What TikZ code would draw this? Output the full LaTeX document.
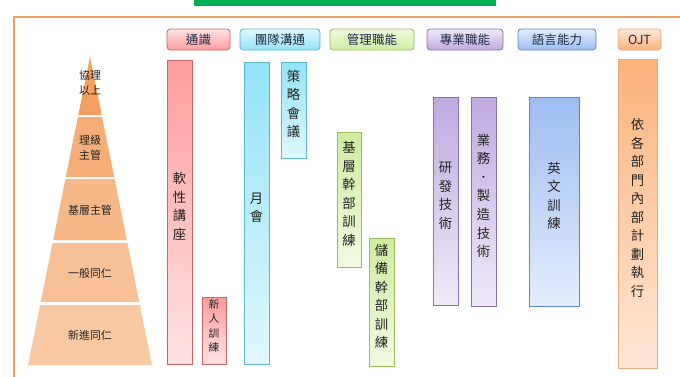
\documentclass[tikz,border=0pt]{standalone}
\usepackage{fontspec}
\newfontfamily\cjk{Noto Sans CJK TC}
\usetikzlibrary{fit}
\definecolor{frameO}{HTML}{F0A060}
\definecolor{topG}{HTML}{00B050}
\definecolor{txt}{HTML}{222222}
\definecolor{hdrtxt}{HTML}{1F2A44}
\definecolor{redB}{HTML}{C8656A}\definecolor{redT}{HTML}{FF9C9C}\definecolor{redL}{HTML}{FFE3E3}
\definecolor{cyaB}{HTML}{5FB7CC}\definecolor{cyaT}{HTML}{93E3F7}\definecolor{cyaL}{HTML}{E0F7FD}
\definecolor{grnB}{HTML}{9CBB5C}\definecolor{grnT}{HTML}{CDEDA0}\definecolor{grnL}{HTML}{F2FAE0}
\definecolor{purB}{HTML}{8A72A8}\definecolor{purT}{HTML}{BFA9E0}\definecolor{purL}{HTML}{EFEAF8}
\definecolor{bluB}{HTML}{5B86C0}\definecolor{bluT}{HTML}{9DBDF2}\definecolor{bluL}{HTML}{E3EDFC}
\definecolor{orgB}{HTML}{E8A878}\definecolor{orgT}{HTML}{FBB27A}\definecolor{orgL}{HTML}{FFE8D8}
\definecolor{py1}{HTML}{F4A060}\definecolor{py2}{HTML}{F5AE78}\definecolor{py3}{HTML}{F6B887}
\definecolor{py4}{HTML}{F7C096}\definecolor{py5}{HTML}{F8C9A3}
\begin{document}
\begin{tikzpicture}[x=0.75pt,y=-0.75pt,
  base/.style={inner sep=0pt, outer sep=0pt, line width=0.6pt, align=center, text=txt},
  barfont/.style={font=\cjk\fontsize{10}{13.9}\selectfont},
  smallfont/.style={font=\cjk\fontsize{8}{10.9}\selectfont},
  hdr/.style={base, rounded corners=2.5pt},
  hdrtext/.style={inner sep=0pt, text=hdrtxt, font=\cjk\fontsize{9.4}{10}\selectfont},
  pyt/.style={inner sep=0pt, align=center, text=txt, font=\cjk\fontsize{8.2}{11.2}\selectfont},
  barR/.style={base, draw=redB, top color=redT, bottom color=redL},
  barC/.style={base, draw=cyaB, top color=cyaT, bottom color=cyaL},
  barG/.style={base, draw=grnB, top color=grnT, bottom color=grnL},
  barP/.style={base, draw=purB, top color=purT, bottom color=purL},
  barB/.style={base, draw=bluB, top color=bluT, bottom color=bluL},
  barO/.style={base, draw=orgB, top color=orgT, bottom color=orgL},
  hdrR/.style={hdr, draw=redB, top color=redL, bottom color=redT},
  hdrC/.style={hdr, draw=cyaB, top color=cyaL, bottom color=cyaT},
  hdrG/.style={hdr, draw=grnB, top color=grnL, bottom color=grnT},
  hdrP/.style={hdr, draw=purB, top color=purL, bottom color=purT},
  hdrB/.style={hdr, draw=bluB, top color=bluL, bottom color=bluT},
  hdrO/.style={hdr, draw=orgB, top color=orgL, bottom color=orgT}]
\useasboundingbox[fill=white] (0,0) rectangle (680,376);
% top green bar and frame
\fill[topG] (194,0) rectangle (496,6);
\draw[frameO, line width=1.6pt] (14,380) -- (14,17) -- (684,17);
% pyramid
\fill[py1] (90,57) -- (101.7,115) -- (78.3,115) -- cycle;
\fill[py2] (77.9,117) -- (102.1,117) -- (114.2,177) -- (65.8,177) -- cycle;
\fill[py3] (65.4,179) -- (114.6,179) -- (126.8,240) -- (53.2,240) -- cycle;
\fill[py4] (52.6,243) -- (127.4,243) -- (139.3,302) -- (40.7,302) -- cycle;
\fill[py5] (40.1,305) -- (139.9,305) -- (152,365) -- (28,365) -- cycle;
\node[pyt] (p1) at (90,83) {協理\\以上};
\node[pyt] (p2) at (90,148) {理級\\主管};
\node[pyt] (p3) at (90,210) {基層主管};
\node[pyt] (p4) at (90,273) {一般同仁};
\node[pyt] (p5) at (90,335) {新進同仁};
% headers
\node[hdrR, fit={(167,29) (230,50)}] (h1) {};
\node[hdrC, fit={(240,29) (320,50)}] (h2) {};
\node[hdrG, fit={(330,29) (414,50)}] (h3) {};
\node[hdrP, fit={(427,29) (503,50)}] (h4) {};
\node[hdrB, fit={(518,29) (596,50)}] (h5) {};
\node[hdrO, fit={(618,29) (661,50)}] (h6) {};
\node[hdrtext] (h1t) at (h1.center) {通識};
\node[hdrtext] (h2t) at (h2.center) {團隊溝通};
\node[hdrtext] (h3t) at (h3.center) {管理職能};
\node[hdrtext] (h4t) at (h4.center) {專業職能};
\node[hdrtext] (h5t) at (h5.center) {語言能力};
\node[hdrtext] (h6t) at (h6.center) {OJT};
% bars
\node[barR, barfont, fit={(167,60) (192,364)}] (b1) {軟\\性\\講\\座};
\node[barR, smallfont, fit={(202,297) (226,364)}] (b2) {新\\人\\訓\\練};
\node[barC, barfont, fit={(244,62) (269,364)}] (b3) {月\\會};
\node[barC, barfont, fit={(281,62) (306,158)}] (b4) {};
\node[barfont, base, draw=none] (b4t) at ([yshift=4.5pt]b4.center) {策\\略\\會\\議};
\node[barG, barfont, fit={(337,132) (361,267)}] (b5) {基\\層\\幹\\部\\訓\\練};
\node[barG, barfont, fit={(369,238) (394,366)}] (b6) {儲\\備\\幹\\部\\訓\\練};
\node[barP, barfont, fit={(433,97) (458,305)}] (b7) {研\\發\\技\\術};
\node[barP, barfont, fit={(471,97) (496,306)}] (b8) {業\\務\\．\\製\\造\\技\\術};
\node[barB, barfont, fit={(529,97) (579,306)}] (b9) {英\\文\\訓\\練};
\node[barO, barfont, fit={(618,59) (657,368)}] (b10) {依\\各\\部\\門\\內\\部\\計\\劃\\執\\行};
\end{tikzpicture}
\end{document}
